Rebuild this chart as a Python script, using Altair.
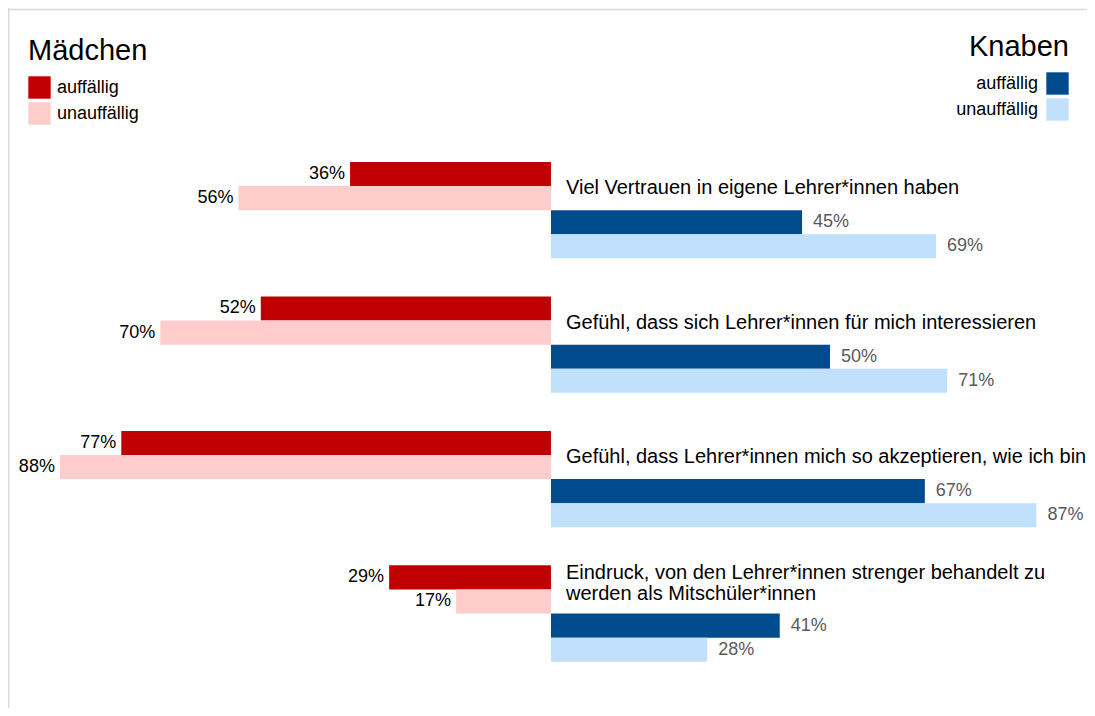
import altair as alt
import pandas as pd

categories = [
    "Viel Vertrauen in eigene Lehrer*innen haben",
    "Gefühl, dass sich Lehrer*innen für mich interessieren",
    "Gefühl, dass Lehrer*innen mich so akzeptieren, wie ich bin",
    "Eindruck, von den Lehrer*innen strenger behandelt zu\nwerden als Mitschüler*innen",
]
girls_auffaellig = [36, 52, 77, 29]
girls_unauffaellig = [56, 70, 88, 17]
boys_auffaellig = [45, 50, 67, 41]
boys_unauffaellig = [69, 71, 87, 28]
status = ["auffällig", "unauffällig"]

GROUP = 5.58
FONT = "Liberation Sans"

bar_rows = []
for g, cat in enumerate(categories):
    for k, (sex, st, vals) in enumerate([
        ("Mädchen", status[0], girls_auffaellig),
        ("Mädchen", status[1], girls_unauffaellig),
        ("Knaben", status[0], boys_auffaellig),
        ("Knaben", status[1], boys_unauffaellig),
    ]):
        v = vals[g]
        sign = -1 if sex == "Mädchen" else 1
        bar_rows.append({
            "cat": cat, "sex": sex, "status": st, "value": v,
            "x": sign * v, "zero": 0,
            "y": g * GROUP + k, "y2": g * GROUP + k + 1, "ym": g * GROUP + k + 0.5,
            "label": f"{v}%",
        })
bars = pd.DataFrame(bar_rows)
girls = bars[bars.sex == "Mädchen"]
boys = bars[bars.sex == "Knaben"]

cat_df = pd.DataFrame({
    "cat": categories,
    "y": [g * GROUP + 1.1 - 0.8 * cat.count("\n") for g, cat in enumerate(categories)],
    "zero": 0,
})

xs = alt.Scale(domain=[-97.3, 96.06], nice=False, zero=False)
ys = alt.Scale(domain=[-6.39, 22.66], nice=False, zero=False, reverse=True)

girls_legend = alt.Legend(
    title="Mädchen", orient="none", legendX=20, legendY=29,
    titleFontSize=29, titleFont=FONT, titleFontWeight="normal", titleColor="#000000",
    titlePadding=10, titleAnchor="start",
    labelFontSize=18, labelFont=FONT, labelColor="#000000", labelOffset=6,
    symbolType="square", symbolSize=500, symbolStrokeWidth=0, rowPadding=3, padding=0,
)
boys_legend = alt.Legend(
    title="Knaben", orient="none", legendX=961, legendY=25,
    titleFontSize=29, titleFont=FONT, titleFontWeight="normal", titleColor="#000000",
    titlePadding=10, titleAnchor="end", titleAlign="right",
    labelFontSize=18, labelFont=FONT, labelColor="#000000", labelOffset={"expr": "-31"}, labelAlign="right",
    symbolType="square", symbolSize=500, symbolStrokeWidth=0, rowPadding=3, padding=0,
)

girls_bars = alt.Chart(girls).mark_rect().encode(
    x=alt.X("x:Q", scale=xs, axis=None),
    x2="zero:Q",
    y=alt.Y("y:Q", scale=ys, axis=None),
    y2="y2:Q",
    color=alt.Color("status:N", scale=alt.Scale(domain=status, range=["#C00000", "#FFCCCC"]), legend=girls_legend),
)
boys_bars = alt.Chart(boys).mark_rect().encode(
    x=alt.X("zero:Q", scale=xs, axis=None),
    x2="x:Q",
    y=alt.Y("y:Q", scale=ys, axis=None),
    y2="y2:Q",
    color=alt.Color("status:N", scale=alt.Scale(domain=status, range=["#004B8D", "#C0E0FC"]), legend=boys_legend),
)
girls_text = alt.Chart(girls).mark_text(
    align="right", baseline="middle", dx=-5, fontSize=18, font=FONT, color="#000000"
).encode(x=alt.X("x:Q", scale=xs), y=alt.Y("ym:Q", scale=ys), text="label:N")
boys_text = alt.Chart(boys).mark_text(
    align="left", baseline="middle", dx=11, fontSize=18, font=FONT, color="#595959"
).encode(x=alt.X("x:Q", scale=xs), y=alt.Y("ym:Q", scale=ys), text="label:N")
cat_text = alt.Chart(cat_df).mark_text(
    align="left", baseline="middle", dx=15, fontSize=20, font=FONT, color="#000000",
    lineBreak="\n", lineHeight=21,
).encode(x=alt.X("zero:Q", scale=xs), y=alt.Y("y:Q", scale=ys), text="cat:N")

frame_left = alt.Chart(pd.DataFrame({"a": [0]})).mark_rule(color="#d9d9d9", strokeWidth=1.5).encode(
    x=alt.value(0.75), y=alt.value(0), y2=alt.value(700))
frame_top = alt.Chart(pd.DataFrame({"a": [0]})).mark_rule(color="#d9d9d9", strokeWidth=1.5).encode(
    x=alt.value(0), x2=alt.value(1079), y=alt.value(1.5))

chart = alt.layer(
    frame_left, frame_top, girls_bars, boys_bars, girls_text, boys_text, cat_text
).resolve_scale(color="independent").properties(
    width=1079, height=700, padding=0,
    autosize=alt.AutoSizeParams(type="none"),
    background="#ffffff",
).configure_view(stroke=None)

chart.save("out.html", embed_options={"renderer": "svg", "actions": False})
